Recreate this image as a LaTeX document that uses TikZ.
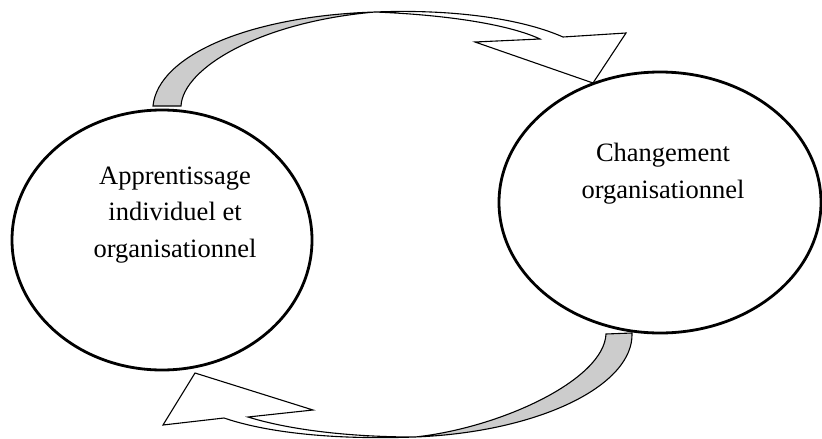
\documentclass[tikz,border=0pt]{standalone}
\usepackage{fontspec}
\setmainfont{Liberation Serif}
\usetikzlibrary{shapes.geometric}
\definecolor{backface}{RGB}{204,204,204}
\tikzset{
  bubble/.style={ellipse, draw=black, line width=2.8pt, inner sep=0pt, fill=white},
  caption/.style={align=center, font=\fontsize{26.5pt}{36.5pt}\selectfont, inner sep=0pt},
  ribbon/.style={draw=black, line width=1.1pt, line join=miter, fill=white},
  ribbonback/.style={draw=black, line width=1.1pt, line join=miter, fill=backface},
}
\begin{document}
\begin{tikzpicture}[x=1pt, y=-1pt]
\useasboundingbox (0,0) rectangle (822,439);

% the two states
\node[bubble, minimum width=300pt, minimum height=260pt] (learn) at (162,240) {};
\node[bubble, minimum width=322pt, minimum height=261pt] (change) at (660,202.5) {};
\node[caption, xshift=13pt, yshift=25pt] (learntxt) at (learn.center)
  {Apprentissage\\individuel et\\organisationnel};
\node[caption, xshift=3pt, yshift=29pt] (changetxt) at (change.center)
  {Changement\\organisationnel};

% upper curved arrow: from learning to change
\coordinate (tbL) at (153,106);
\coordinate (tbR) at (181,106);
\coordinate (tT) at (375,12);
% front face with head
\path[ribbon] (tT) .. controls (450,9) and (520,18) .. (563,37)
  -- (626,33) -- (593,83) -- (475,42) -- (540,39)
  .. controls (510,25) and (450,15) .. (tT) -- cycle;
% back face near the base
\path[ribbonback] (tbL) .. controls (158,55) and (250,16) .. (tT)
  .. controls (260,22) and (183,68) .. (tbR) -- cycle;

% lower curved arrow: from change back to learning
\coordinate (bbL) at (606,334);
\coordinate (bbR) at (632,333);
\coordinate (bT) at (415,437);
% front face with head
\path[ribbon] (bT) .. controls (330,440) and (265,432) .. (224,418)
  -- (163,425) -- (195,373) -- (313,410) -- (248,417)
  .. controls (290,430) and (350,437) .. (bT) -- cycle;
% back face near the base
\path[ribbonback] (bbR) .. controls (634,385) and (540,432) .. (bT)
  .. controls (500,428) and (604,380) .. (bbL) -- cycle;
\end{tikzpicture}
\end{document}
